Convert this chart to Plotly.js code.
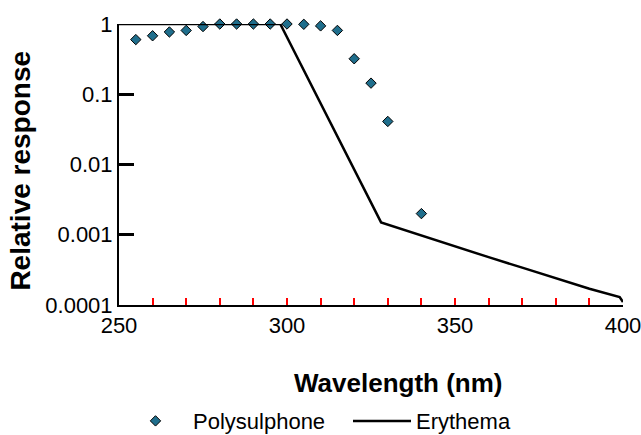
<!DOCTYPE html>
<html>
<head>
<meta charset="utf-8">
<script src="https://cdn.plot.ly/plotly-3.0.1.min.js"></script>
<style>html,body{margin:0;padding:0;background:#fff;}#chart{width:641px;height:435px;}</style>
</head>
<body>
<div id="chart"></div>
<script>
// Polysulphone response
const polyWavelength = [255, 260, 265, 270, 275, 280, 285, 290, 295, 300, 305, 310, 315, 320, 325, 330, 340];
const polyResponse   = [0.60, 0.68, 0.77, 0.81, 0.92, 1.0, 1.0, 1.0, 1.0, 1.0, 0.99, 0.94, 0.81, 0.32, 0.144, 0.041, 0.002];

// Erythema action spectrum
const eryWavelength = [250, 298, 328, 340, 350, 360, 370, 380, 390, 399, 400];
const eryResponse   = [1, 1, 0.0015, 0.00097, 0.00068, 0.00048, 0.00034, 0.00024, 0.00017, 0.00013, 0.00011];

// Tick positions and labels
const xTickVals = [250, 260, 270, 280, 290, 300, 310, 320, 330, 340, 350, 360, 370, 380, 390, 400];
const xTickText = ['250', '', '', '', '', '300', '', '', '', '', '350', '', '', '', '', '400'];
const yTickVals = [1, 0.1, 0.01, 0.001, 0.0001];
const yTickText = ['1', '0.1', '0.01', '0.001', '0.0001'];

const FONT = '"Liberation Sans", Arial, sans-serif';

const traces = [
  {
    x: polyWavelength, y: polyResponse, name: 'Polysulphone', legend: 'legend',
    type: 'scatter', mode: 'markers', cliponaxis: false,
    marker: {symbol: 'diamond', size: 8, color: '#1F6E8C', line: {color: 'black', width: 1}}
  },
  {
    x: eryWavelength, y: eryResponse, name: 'Erythema', legend: 'legend2',
    type: 'scatter', mode: 'lines', cliponaxis: false,
    line: {color: 'black', width: 2.5}
  }
];

const layout = {
  width: 641, height: 435,
  margin: {l: 119, r: 18, t: 24, b: 130, autoexpand: false},
  paper_bgcolor: '#fff', plot_bgcolor: '#fff',
  font: {family: FONT, size: 22, color: '#000'},
  showlegend: true,
  legend: {
    orientation: 'h', xref: 'container', yref: 'container',
    x: 118/641, xanchor: 'left', y: 0.032, yanchor: 'middle',
    font: {family: FONT, size: 22, color: '#000'}, itemwidth: 65, bgcolor: 'rgba(0,0,0,0)'
  },
  legend2: {
    orientation: 'h', xref: 'container', yref: 'container',
    x: 348/641, xanchor: 'left', y: 0.032, yanchor: 'middle',
    font: {family: FONT, size: 22, color: '#000'}, itemwidth: 58, bgcolor: 'rgba(0,0,0,0)'
  },
  xaxis: {
    range: [250, 400], tickvals: xTickVals, ticktext: xTickText,
    showgrid: false, zeroline: false, showline: true, linecolor: 'black', linewidth: 2,
    ticks: 'inside', ticklen: 7, tickwidth: 2, tickcolor: 'red',
    tickfont: {family: FONT, size: 22}, ticklabeloverflow: 'allow'
  },
  yaxis: {
    type: 'log', range: [-4, 0], tickvals: yTickVals, ticktext: yTickText,
    showgrid: false, zeroline: false, showline: true, linecolor: 'black', linewidth: 2,
    ticks: 'inside', ticklen: 15, tickwidth: 3, tickcolor: 'black',
    tickfont: {family: FONT, size: 22}, ticklabeloverflow: 'allow'
  },
  annotations: [
    {text: '<b>Wavelength (nm)</b>', xref: 'paper', yref: 'paper', x: 0.554, y: -0.278,
     xanchor: 'center', yanchor: 'middle', showarrow: false, font: {family: FONT, size: 26}},
    {text: '<b>Relative response</b>', xref: 'paper', yref: 'paper', x: -0.196, y: 0.479,
     xanchor: 'center', yanchor: 'middle', textangle: -90, showarrow: false, font: {family: FONT, size: 28}}
  ]
};

Plotly.newPlot('chart', traces, layout, {displayModeBar: false, staticPlot: true});
</script>
</body>
</html>
